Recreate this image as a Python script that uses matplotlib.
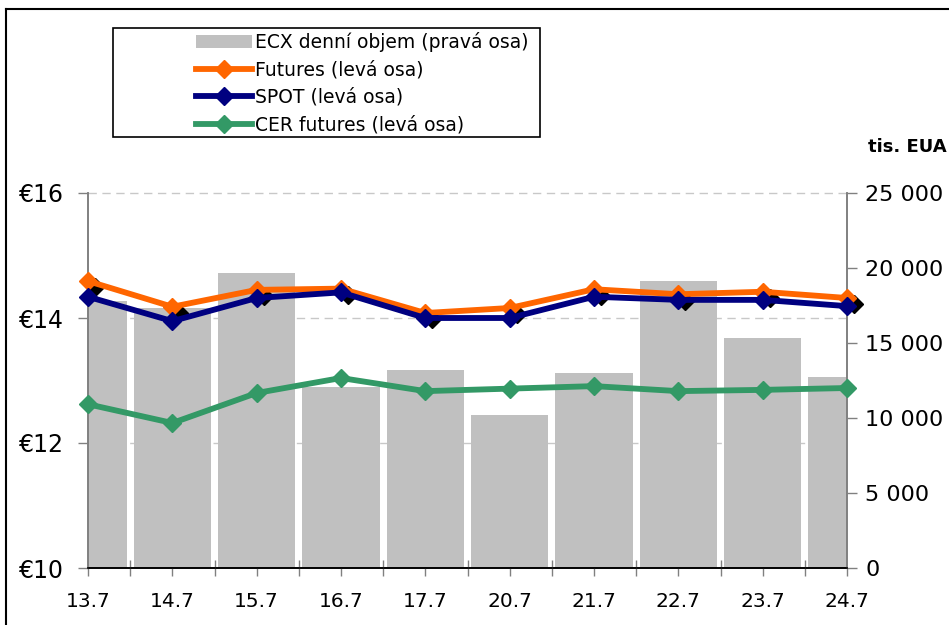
import numpy as np
import matplotlib.pyplot as plt
from matplotlib import transforms
from matplotlib.patches import Rectangle, Patch
from matplotlib.lines import Line2D

plt.rcParams['font.family'] = ['DejaVu Sans']

# dates (trading days)
days = ['13.7', '14.7', '15.7', '16.7', '17.7', '20.7', '21.7', '22.7', '23.7', '24.7']
# ECX daily volume, thousands EUA (right axis)
volume = [17800, 17350, 19650, 12050, 13200, 10200, 13000, 19150, 15350, 12750]
# prices, EUR (left axis)
futures = [14.59, 14.18, 14.45, 14.47, 14.08, 14.16, 14.46, 14.38, 14.42, 14.32]
spot = [14.34, 13.95, 14.32, 14.41, 14.00, 14.00, 14.34, 14.29, 14.29, 14.19]
cer = [12.62, 12.32, 12.80, 13.04, 12.83, 12.87, 12.91, 12.83, 12.85, 12.88]

left_ticks = [10, 12, 14, 16]
right_ticks = [0, 5000, 10000, 15000, 20000, 25000]

fig = plt.figure(figsize=(9.49, 6.25), dpi=100)
pos = [88 / 949, 1 - 568 / 625, (847 - 88) / 949, (568 - 193) / 625]

ax2 = fig.add_axes(pos)   # bars, right axis
ax = fig.add_axes(pos)    # lines, left axis
ax.patch.set_visible(False)

x = np.arange(len(days))

# bars
ax2.bar(x, volume, width=0.92, color='#c0c0c0', zorder=2)
ax2.set_ylim(0, 25000)
ax2.set_xlim(0, len(days) - 1)
ax2.yaxis.tick_right()
ax2.set_yticks(right_ticks)
ax2.set_yticklabels([f'{v:,}'.replace(',', ' ') for v in right_ticks])
ax2.tick_params(axis='y', labelsize=16, length=7, width=1, color='#808080', pad=6)
ax2.set_xticks([])

# dashed gridlines at left-axis ticks, behind the bars
blend = transforms.blended_transform_factory(ax2.transAxes, ax.transData)
for t in left_ticks[1:]:
    ax2.plot([0, 1], [t, t], transform=blend, color='#c8c8c8', lw=1,
             ls=(0, (6, 4)), zorder=1, clip_on=False)

# lines
lw, ms = 4.2, 9.5
shadow = transforms.offset_copy(ax.transData, fig=fig, x=5, y=-4.5, units='points')
ax.plot(x, cer, color='#339966', lw=lw, marker='D', ms=ms, zorder=3, clip_on=False)
ax.plot(x, futures, ls='none', marker='D', ms=ms, color='black', transform=shadow,
        zorder=3.5, clip_on=False)
ax.plot(x, futures, color='#ff6600', lw=lw, marker='D', ms=ms, zorder=4, clip_on=False)
ax.plot(x, spot, color='#000080', lw=lw, marker='D', ms=ms, zorder=5, clip_on=False)

ax.set_ylim(10, 16)
ax.set_xlim(0, len(days) - 1)
ax.set_yticks(left_ticks)
ax.set_yticklabels([f'€{v}' for v in left_ticks])
ax.tick_params(axis='y', labelsize=17, length=7, width=1, color='#808080', pad=10)
ax.set_xticks(x)
ax.set_xticklabels(days)
ax.set_xticks(x[:-1] + 0.5, minor=True)
ax.tick_params(axis='x', which='major', labelsize=14.5, length=6, width=1,
               color='#808080', pad=11)
ax.tick_params(axis='x', which='minor', length=12, width=1, color='#808080',
               direction='inout')

for a in (ax, ax2):
    a.spines['top'].set_visible(False)
    a.spines['left'].set_color('#808080')
    a.spines['right'].set_color('#808080')
    a.spines['bottom'].set_color('black')
    for s in a.spines.values():
        s.set_linewidth(1.2)

# unit label for right axis
fig.text(947 / 949, 1 - 147 / 625, 'tis. EUA', ha='right', va='center',
         fontsize=13, fontweight='bold')

# legend box
fig.patches.append(Rectangle((113 / 949, 1 - 137 / 625), 427 / 949, 109 / 625,
                             transform=fig.transFigure, fill=False,
                             edgecolor='black', lw=1.2))
handles = [
    Patch(facecolor='#c0c0c0', edgecolor='none'),
    Line2D([], [], color='#ff6600', lw=lw, marker='D', ms=ms),
    Line2D([], [], color='#000080', lw=lw, marker='D', ms=ms),
    Line2D([], [], color='#339966', lw=lw, marker='D', ms=ms),
]
labels = ['ECX denní objem (pravá osa)', 'Futures (levá osa)',
          'SPOT (levá osa)', 'CER futures (levá osa)']
fig.legend(handles, labels, loc='upper left', bbox_to_anchor=(196 / 949, 1 - 32 / 625),
           frameon=False, fontsize=13.5, borderpad=0, borderaxespad=0,
           handlelength=3.0, handletextpad=0.15, labelspacing=0.45)

# outer chart border (left and top visible)
fig.add_artist(Line2D([6 / 949, 6 / 949], [0, 1 - 9 / 625], color='black', lw=1.5,
                      transform=fig.transFigure))
fig.add_artist(Line2D([6 / 949, 1], [1 - 9 / 625, 1 - 9 / 625], color='black', lw=1.5,
                      transform=fig.transFigure))

fig.savefig('out.png', dpi=100)
